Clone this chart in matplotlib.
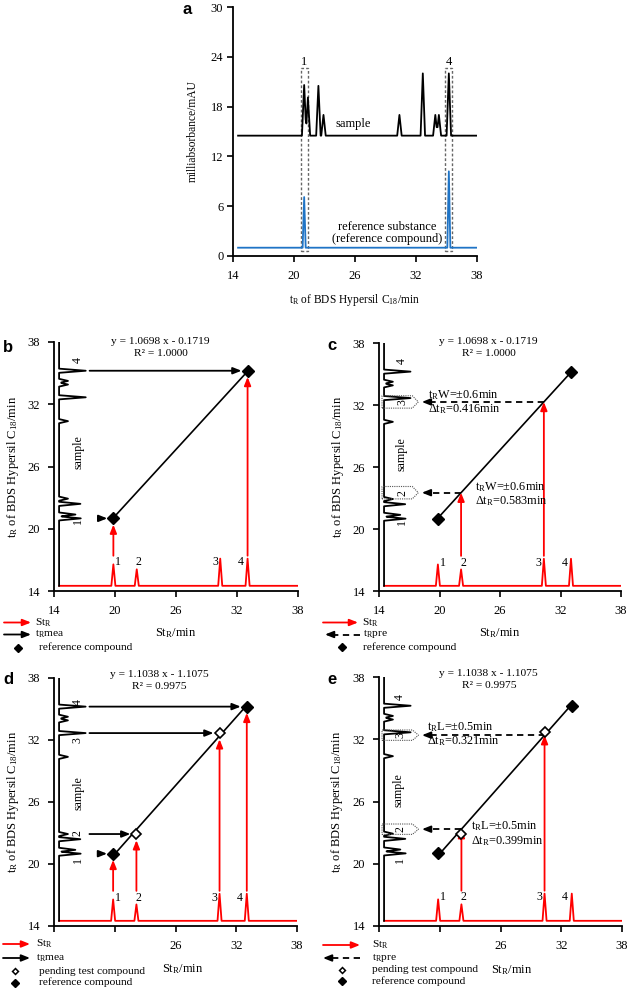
import matplotlib
matplotlib.use('Agg')
import matplotlib.pyplot as plt
from matplotlib.patches import Polygon, Rectangle
import numpy as np

plt.rcParams['font.family'] = ['Liberation Serif', 'DejaVu Serif']
plt.rcParams['mathtext.fontset'] = 'custom'
plt.rcParams['mathtext.rm'] = 'Liberation Serif'
plt.rcParams['mathtext.it'] = 'Liberation Serif:italic'
plt.rcParams['font.size'] = 8.2

W, H = 629, 992

# ---------------- data ----------------
sample_t = [21.0, 21.37, 22.4, 22.9, 30.37, 32.67, 33.9, 34.25, 35.23]
sample_h = [20.6, 19.1, 20.5, 17.0, 17.0, 22.0, 17.0, 17.0, 22.0]
sample_base = 14.5
ref_t = [21.0, 35.23]
ref_h = [7.1, 10.2]
ref_base = 1.0
ref_labels = ['1', '4']

st_r = [19.84, 22.14, 30.35, 33.04]          # St_R of the 4 compounds
st_h = [16.57, 16.09, 17.12, 17.12]
st_base = 14.5
t_mea = [21.0, 22.9, 32.67, 35.23]           # measured t_R
peak_labels = ['1', '2', '3', '4']

fit1 = (1.0698, -0.1719)
fit2 = (1.1038, -1.1075)
r2_1, r2_2 = '1.0000', '0.9975'
win_w = 0.6
win_l = 0.5
delta_c = {1: '0.583', 2: '0.416'}
delta_e = {1: '0.399', 2: '0.321'}

axis_ticks = [14, 20, 26, 32, 38]
a_yticks = [0, 6, 12, 18, 24, 30]

# ---------------- helpers ----------------
fig = plt.figure(figsize=(W / 100, H / 100), dpi=100)


def px_axes(x0, y0, x1, y1):
    return fig.add_axes([x0 / W, 1 - y1 / H, (x1 - x0) / W, (y1 - y0) / H])


def chrom(centers, heights, base, hw, start=14.5, end=38.0):
    xs = [start, end]
    for c in centers:
        xs += [c - hw, c, c + hw]
    xs = sorted(set(xs))
    ys = []
    for x in xs:
        v = 0.0
        for c, h in zip(centers, heights):
            v = max(v, (h - base) * max(0.0, 1 - abs(x - c) / hw))
        ys.append(base + v)
    return np.array(xs), np.array(ys)


def style(ax, ylim, yticks, fs):
    for s in ['top', 'right']:
        ax.spines[s].set_visible(False)
    for s in ['left', 'bottom']:
        ax.spines[s].set_linewidth(1.3)
    ax.set_xlim(14, 38)
    ax.set_ylim(*ylim)
    ax.set_xticks(axis_ticks)
    ax.set_yticks(yticks)
    ax.tick_params(direction='out', length=4, width=1.2, labelsize=fs)


def arrow(ax, x0, y0, x1, y1, color):
    ax.annotate('', xy=(x1, y1), xytext=(x0, y0),
                arrowprops=dict(arrowstyle='-|>,head_length=0.5,head_width=0.2',
                                color=color, lw=1.3, shrinkA=0, shrinkB=0,
                                mutation_scale=10), annotation_clip=False)


def dashed_arrow(ax, x0, y0, x1, y1):
    d = 0.5 if x1 < x0 else -0.5
    ax.plot([x0, x1 + d], [y0, y1], color='black', lw=1.3, ls=(0, (3.5, 2.5)))
    arrow(ax, x1 + d, y1, x1, y1, 'black')


def fit(f, x):
    return f[0] * x + f[1]


rot_scale = 0.35
ROT = 90


def panel(ax, kind):
    style(ax, (14, 38), axis_ticks, 9)
    # St_R chromatogram (red)
    xs, ys = chrom(st_r, st_h, st_base, 0.2)
    ax.plot(xs, ys, color='red', lw=1.3, zorder=2)
    # sample chromatogram (black, rotated)
    ts, vs = chrom(sample_t, sample_h, sample_base, 0.2)
    ax.plot(14.5 + (vs - sample_base) * rot_scale, ts, color='black', lw=1.3, zorder=2)

    offs = [0.5, 0.2, -0.5, -0.65]
    for s, lab, o in zip(st_r, peak_labels, offs):
        ax.text(s + o, 16.75, lab, ha='center', va='center', fontsize=8.6)

    f = fit1 if kind in 'bc' else fit2
    r2 = r2_1 if kind in 'bc' else r2_2
    eqx = {'b': 24.5, 'c': 24.85, 'd': 24.4, 'e': 24.85}[kind]
    eqy = {'b': 38.0, 'c': 38.15, 'd': 38.3, 'e': 38.3}[kind]
    ax.text(eqx, eqy, 'y = %.4f x - %.4f' % (f[0], -f[1]), ha='center', va='center', clip_on=False)
    ax.text(eqx, eqy - 1.15, 'R² = ' + r2, ha='center', va='center', clip_on=False)

    # fit line
    xl = np.array([st_r[0], st_r[3]])
    ax.plot(xl, fit(f, xl), color='black', lw=1.2, zorder=3)
    # reference compounds
    ax.plot([st_r[0], st_r[3]], [t_mea[0], t_mea[3]], ls='none', marker='D',
            ms=6.2, color='black', zorder=6)

    sx = {'b': 16.45, 'c': 16.25, 'd': 16.45, 'e': 15.95}[kind]
    sy = {'b': 27.4, 'c': 27.3, 'd': 26.9, 'e': 27.1}[kind]
    ax.text(sx, sy, 'sample', rotation=ROT, ha='center', va='center', fontsize=8.6)

    if kind in 'bd':
        idx = [0, 3] if kind == 'b' else [0, 1, 2, 3]
        for i in idx:
            x0 = 18.5 if i == 0 else 17.5
            arrow(ax, x0, t_mea[i], st_r[i] - 0.6, t_mea[i], 'black')
            arrow(ax, st_r[i], 17.4, st_r[i], t_mea[i] - 0.6, 'red')
        if kind == 'd':
            ax.plot([st_r[1], st_r[2]], [t_mea[1], t_mea[2]], ls='none', marker='D',
                    ms=5.0, mfc='white', mec='black', mew=1.2, zorder=6)
            labs = [('4', 35.7), ('3', 32.0), ('2', 23.0), ('1', 20.4)]
        else:
            labs = [('4', 36.3), ('1', 20.7)]
        for lab, y in labs:
            ax.text(16.35, y, lab, rotation=ROT, ha='center', va='center', fontsize=8.6)
    else:
        w = win_w if kind == 'c' else win_l
        wl = 'W' if kind == 'c' else 'L'
        dl = delta_c if kind == 'c' else delta_e
        for i in [1, 2]:
            yp = fit(f, st_r[i])
            arrow(ax, st_r[i], 17.4, st_r[i], yp, 'red')
            dashed_arrow(ax, st_r[i], yp, 18.25, yp)
            poly = Polygon([(14.3, yp - w), (17.3, yp - w), (17.9, yp), (17.3, yp + w), (14.3, yp + w)],
                           closed=True, fill=False, edgecolor='#555555', lw=0.8, ls=(0, (1, 1)), zorder=4)
            ax.add_patch(poly)
            ax.text(16.3 if kind == 'c' else 16.1, yp, peak_labels[i], rotation=ROT,
                    ha='center', va='center', fontsize=8.6)
        if kind == 'e':
            ax.plot([st_r[1], st_r[2]], [t_mea[1], t_mea[2]], ls='none', marker='D',
                    ms=5.0, mfc='white', mec='black', mew=1.2, zorder=6)
        pos = {'c': [(23.5, 24.1, 22.66), (18.9, 33.0, 31.6)],
               'e': [(23.12, 23.6, 22.2), (18.74, 33.17, 31.85)]}[kind]
        for (tx, ty1, ty2), i in zip(pos, [1, 2]):
            ax.text(tx, ty1, r't$_\mathregular{R}$' + wl + '=±%.1fmin' % w, ha='left', va='center',
                    fontsize=8.8)
            ax.text(tx, ty2, r'Δt$_\mathregular{R}$=' + dl[i] + 'min', ha='left', va='center',
                    fontsize=8.8)
        labs = [('4', 36.3), ('1', 20.7)] if kind == 'c' else [('4', 36.1), ('1', 20.4)]
        for lab, y in labs:
            ax.text(16.3 if kind == 'c' else 16.1, y, lab, rotation=ROT, ha='center', va='center',
                    fontsize=8.6)

    ax.set_xlabel(r'St$_\mathregular{R}$/min', fontsize=9, va='center')
    ax.set_ylabel(r't$_\mathregular{R}$ of BDS Hypersil C$_\mathregular{18}$/min', fontsize=9, va='center')
    if kind in 'de':
        ax.set_xticklabels(['', '', '26', '32', '38'])
    ax.tick_params(pad=6)


# ---------------- panel a ----------------
axa = px_axes(233, 7, 477, 256)
style(axa, (0, 30), a_yticks, 9)
axa.tick_params(axis='y', pad=3)
axa.tick_params(axis='x', pad=6)
xs, ys = chrom(sample_t, sample_h, sample_base, 0.22)
axa.plot(xs, ys, color='black', lw=1.3)
xs, ys = chrom(ref_t, ref_h, ref_base, 0.15)
axa.plot(xs, ys, color='#1f74c6', lw=1.3)
for t, lab in zip(ref_t, ref_labels):
    axa.add_patch(Rectangle((t - 0.35, 0.6), 0.7, 22.1, fill=False, edgecolor='#666666',
                            lw=1.0, ls=(0, (2, 1.5))))
    axa.text(t, 23.4, lab, ha='center', va='center', fontsize=9)
axa.text(25.85, 15.9, 'sample', ha='center', va='center', fontsize=9)
axa.text(29.15, 2.75, 'reference substance\n(reference compound)', ha='center', va='center',
         fontsize=9, linespacing=1.05)
axa.set_ylabel('milliabsorbance/mAU', fontsize=8.3, va='center')
axa.set_xlabel(r't$_\mathregular{R}$ of BDS Hypersil C$_\mathregular{18}$/min', fontsize=8.3, va='center')
axa.yaxis.set_label_coords((193 - 233) / 244, 0.5)
axa.xaxis.set_label_coords(0.5, (256 - 300) / 249)

# ---------------- panels b-e ----------------
axb = px_axes(54, 342, 298, 591)
panel(axb, 'b')
axb.yaxis.set_label_coords((13 - 54) / 244, 0.5)
axb.xaxis.set_label_coords(0.5, (591 - 633) / 249)

axc = px_axes(379, 343, 621, 591)
panel(axc, 'c')
axc.yaxis.set_label_coords((338 - 379) / 242, 0.5)
axc.xaxis.set_label_coords(0.5, (591 - 633) / 248)

axd = px_axes(54, 678, 297, 926)
panel(axd, 'd')
axd.yaxis.set_label_coords((13 - 54) / 243, 0.5)
axd.xaxis.set_label_coords((183 - 54) / 243, (926 - 969) / 248)

axe = px_axes(379, 677, 622, 926)
panel(axe, 'e')
axe.yaxis.set_label_coords((337 - 379) / 243, 0.5)
axe.xaxis.set_label_coords((512 - 379) / 243, (926 - 970) / 249)

# ---------------- overlay: panel letters and legends ----------------
ov = fig.add_axes([0, 0, 1, 1])
ov.set_xlim(0, W)
ov.set_ylim(H, 0)
ov.axis('off')
ov.patch.set_alpha(0)

for lab, x, y in [('a', 187, 9), ('b', 8, 347), ('c', 332, 346), ('d', 8, 679), ('e', 332, 679)]:
    ov.text(x, y, lab, fontsize=12, fontweight='bold', family='Liberation Sans',
            ha='center', va='center')


def ov_arrow(x0, y, x1, color, dashed=False):
    if dashed:
        ov.plot([x0, x1 + 6], [y, y], color=color, lw=1.3, ls=(0, (3.5, 2.5)))
        x0 = x1 + 7
    ov.annotate('', xy=(x1, y), xytext=(x0, y),
                arrowprops=dict(arrowstyle='-|>,head_length=0.5,head_width=0.2', color=color,
                                lw=1.3, shrinkA=0, shrinkB=0, mutation_scale=10))


def ov_diamond(x, y, filled=True):
    if filled:
        ov.plot([x], [y], marker='D', ms=3.6, color='black', ls='none')
    else:
        ov.plot([x], [y], marker='D', ms=3.0, mfc='white', mec='black', mew=1.1, ls='none')


# legend b
ov_arrow(4, 622.5, 31, 'red')
ov.text(35, 622.5, r'St$_\mathregular{R}$', ha='left', va='center')
ov_arrow(4, 634.5, 31, 'black')
ov.text(35, 634.5, r't$_\mathregular{R}$mea', ha='left', va='center')
ov_diamond(18, 648)
ov.text(39, 647, 'reference compound', ha='left', va='center')

# legend c
ov_arrow(323, 622.5, 358, 'red')
ov.text(362, 622.5, r'St$_\mathregular{R}$', ha='left', va='center')
ov_arrow(360, 634.5, 325, 'black', dashed=True)
ov.text(363, 634.5, r't$_\mathregular{R}$pre', ha='left', va='center')
ov_diamond(342, 647)
ov.text(363, 647, 'reference compound', ha='left', va='center')

# legend d
ov_arrow(3, 944, 30, 'red')
ov.text(36, 944, r'St$_\mathregular{R}$', ha='left', va='center')
ov_arrow(3, 958, 30, 'black')
ov.text(36, 958, r't$_\mathregular{R}$mea', ha='left', va='center')
ov_diamond(15, 971, filled=False)
ov.text(39, 971, 'pending test compound', ha='left', va='center')
ov_diamond(15, 983)
ov.text(39, 982.5, 'reference compound', ha='left', va='center')

# legend e
ov_arrow(323, 945, 360, 'red')
ov.text(372, 945, r'St$_\mathregular{R}$', ha='left', va='center')
ov_arrow(360, 958, 323, 'black', dashed=True)
ov.text(372, 958, r't$_\mathregular{R}$pre', ha='left', va='center')
ov_diamond(342, 970, filled=False)
ov.text(372, 969.5, 'pending test compound', ha='left', va='center')
ov_diamond(342, 981)
ov.text(372, 981, 'reference compound', ha='left', va='center')

fig.savefig('out.png', dpi=100)
